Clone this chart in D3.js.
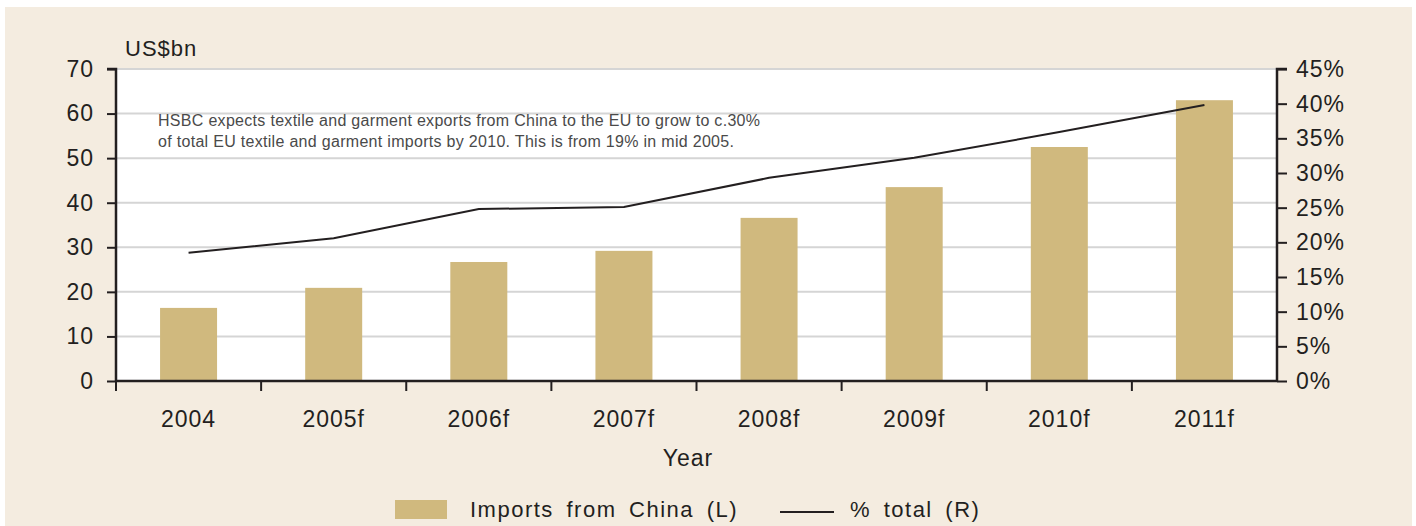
<!DOCTYPE html>
<html lang="en">
  <head>
    <meta charset="UTF-8" />
    <title>Imports from China</title>
    <script src="https://d3js.org/d3.v7.min.js"></script>
    <style>
      body { margin: 0; background: #fff; }
      svg { display: block; font-family: "Liberation Sans", Arial, sans-serif; }
    </style>
  </head>
  <body>
    <script>
      // data
      const years = ["2004", "2005f", "2006f", "2007f", "2008f", "2009f", "2010f", "2011f"];
      const imports = [16.4, 20.9, 26.7, 29.2, 36.6, 43.5, 52.5, 63.0];
      const shareTotal = [18.5, 20.6, 24.8, 25.1, 29.3, 32.2, 35.9, 39.8];
      const leftTicks = [0, 10, 20, 30, 40, 50, 60, 70];
      const rightTicks = [0, 5, 10, 15, 20, 25, 30, 35, 40, 45];

      const W = 1416, H = 526;
      const m = { left: 116, right: 1277, top: 69, bottom: 381 };
      const ink = "#231f20";

      const svg = d3.select("body").append("svg").attr("width", W).attr("height", H);

      // cream panel
      svg.append("rect").attr("x", 5).attr("y", 7).attr("width", 1407).attr("height", H - 7)
        .attr("fill", "#f4ece0");
      svg.append("rect").attr("x", m.left).attr("y", m.top)
        .attr("width", m.right - m.left).attr("height", m.bottom - m.top).attr("fill", "#fff");

      const xb = d3.scaleBand().domain(years).range([m.left, m.right]);
      const yL = d3.scaleLinear().domain([0, 70]).range([m.bottom, m.top]);
      const yR = d3.scaleLinear().domain([0, 45]).range([m.bottom, m.top]);

      // gridlines
      svg.append("g").selectAll("line").data(leftTicks.slice(1)).join("line")
        .attr("x1", m.left).attr("x2", m.right)
        .attr("y1", d => yL(d)).attr("y2", d => yL(d))
        .attr("stroke", "#d5d5d5").attr("stroke-width", 2);

      // annotation
      const note = svg.append("text").attr("x", 158).attr("y", 126)
        .attr("font-size", 16).attr("letter-spacing", 0.3).attr("fill", "#4a4a4a");
      note.append("tspan").attr("x", 158).text("HSBC expects textile and garment exports from China to the EU to grow to c.30%");
      note.append("tspan").attr("x", 158).attr("dy", 21).text("of total EU textile and garment imports by 2010. This is from 19% in mid 2005.");

      // bars
      const bw = 57;
      svg.append("g").selectAll("rect").data(imports).join("rect")
        .attr("x", (d, i) => xb(years[i]) + xb.bandwidth() / 2 - bw / 2)
        .attr("width", bw)
        .attr("y", d => yL(d))
        .attr("height", d => yL(0) - yL(d))
        .attr("fill", "#d0b97e");

      // line
      const line = d3.line()
        .x((d, i) => xb(years[i]) + xb.bandwidth() / 2)
        .y(d => yR(d));
      svg.append("path").datum(shareTotal).attr("d", line)
        .attr("fill", "none").attr("stroke", ink).attr("stroke-width", 2);

      // axes
      const left = svg.append("g").attr("transform", `translate(${m.left},0)`)
        .call(d3.axisLeft(yL).tickValues(leftTicks).tickSize(9).tickPadding(12));
      const right = svg.append("g").attr("transform", `translate(${m.right},0)`)
        .call(d3.axisRight(yR).tickValues(rightTicks).tickSize(10).tickPadding(9).tickFormat(d => d + "%"));
      const bottom = svg.append("g").attr("transform", `translate(0,${m.bottom})`)
        .call(d3.axisBottom(xb).tickSize(0).tickPadding(30));

      [left, right, bottom].forEach(g => {
        g.select(".domain").attr("stroke", ink).attr("stroke-width", 2.5);
        g.selectAll(".tick line").attr("stroke", ink).attr("stroke-width", 2);
        g.selectAll("text").attr("font-size", 23).attr("letter-spacing", 1)
          .attr("fill", ink).attr("font-family", null);
      });
      left.select(".domain").attr("d", `M-9,${m.top}H0V${m.bottom}`);
      right.select(".domain").attr("d", `M10,${m.top}H0V${m.bottom}`);
      bottom.select(".domain").attr("d", `M${m.left},0H${m.right}`);
      left.selectAll(".tick text").attr("dx", -1);

      // category boundary ticks on x axis
      svg.append("g").selectAll("line").data(years).join("line")
        .attr("x1", d => xb(d)).attr("x2", d => xb(d))
        .attr("y1", m.bottom).attr("y2", m.bottom + 10)
        .attr("stroke", ink).attr("stroke-width", 2);

      // axis titles
      svg.append("text").attr("x", 125).attr("y", 56).attr("font-size", 22)
        .attr("letter-spacing", 1).attr("fill", ink).text("US$bn");
      svg.append("text").attr("x", 688).attr("y", 466).attr("text-anchor", "middle")
        .attr("font-size", 23).attr("letter-spacing", 1).attr("fill", ink).text("Year");

      // legend
      const lg = svg.append("g").attr("font-size", 22).attr("fill", ink)
        .attr("letter-spacing", 1.5).attr("word-spacing", 5);
      lg.append("rect").attr("x", 395).attr("y", 500).attr("width", 52).attr("height", 19).attr("fill", "#d0b97e");
      lg.append("text").attr("x", 470).attr("y", 517).text("Imports from China (L)");
      lg.append("line").attr("x1", 780).attr("x2", 834).attr("y1", 512).attr("y2", 512)
        .attr("stroke", ink).attr("stroke-width", 2);
      lg.append("text").attr("x", 850).attr("y", 517).text("% total (R)");
    </script>
  </body>
</html>
